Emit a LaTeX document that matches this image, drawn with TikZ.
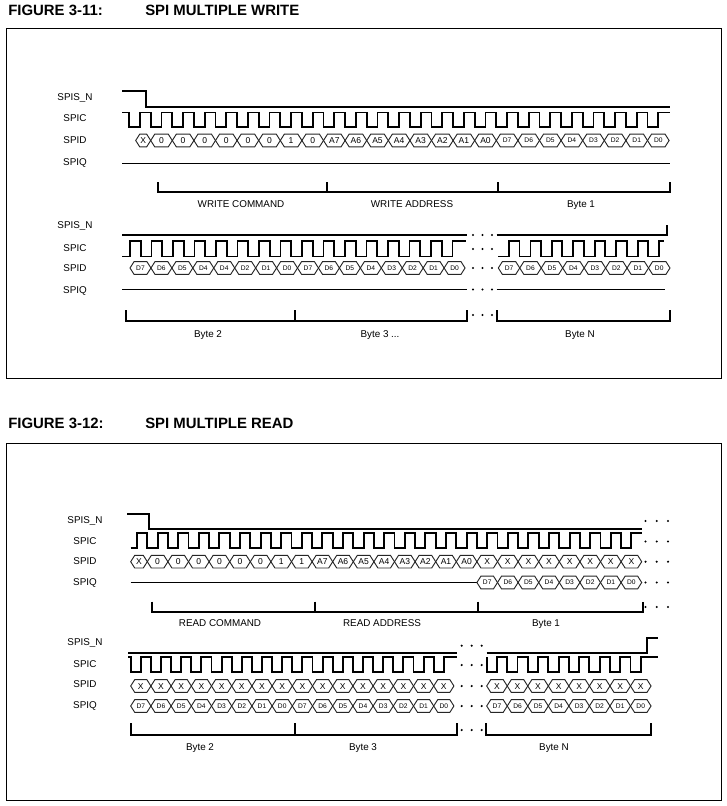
\documentclass[tikz,border=0pt]{standalone}
\usepackage{fontspec}
\setmainfont{Liberation Sans}
\newcounter{hexn}
\tikzset{
  sig/.style={line width=1.4pt, line join=miter},
  hexl/.style={line width=0.7pt, draw=black!85},
  boxl/.style={line width=0.7pt},
  dotf/.style={fill=black},
  slab/.style={font=\fontsize{7.4}{8}\selectfont, text height=5.3pt, text depth=0pt, inner sep=0pt},
  blab/.style={font=\fontsize{7.4}{8}\selectfont, text height=5.3pt, text depth=0pt, inner sep=0pt},
  ttl/.style={font=\bfseries\fontsize{11.2}{12}\selectfont, text height=8pt, text depth=0pt, inner sep=0pt, anchor=west},
  hexb/.style={font=\fontsize{6.4}{6.5}\selectfont, text height=4.6pt, text depth=0pt, inner sep=0pt},
  hexs/.style={font=\fontsize{5}{5}\selectfont, text height=3.6pt, text depth=0pt, inner sep=0pt},
}
\newcommand{\hexc}[5]{%
  \draw[hexl] (#1,#3) -- ({#1+4},{#3-6.3}) -- ({#2-4},{#3-6.3}) -- (#2,#3) -- ({#2-4},{#3+6.3}) -- ({#1+4},{#3+6.3}) -- cycle;%
  \stepcounter{hexn}%
  \node[#5] (hx\the\value{hexn}) at ({(#1+#2)/2},#3) {#4};%
}
\newcommand{\hexrow}[5]{%
  \foreach \hlab [count=\i from 0] in {#5} {%
    \pgfmathsetmacro\ha{#1+#2*\i}%
    \pgfmathsetmacro\hb{#1+#2*(\i+1)}%
    \hexc{\ha}{\hb}{#3}{\hlab}{#4}%
  }%
}
\newcommand{\tdots}[4]{\foreach \dx in {#1,#2,#3} {\fill[dotf] (\dx,#4) circle[radius=0.9pt];}}
\begin{document}
\begin{tikzpicture}[x=0.75pt,y=-0.75pt]
\useasboundingbox (0,0) rectangle (727,806);
\fill[white] (0,0) rectangle (727,806);

% ---------- titles and frames
\node[ttl] (t1a) at (8,10.5) {FIGURE 3-11:};
\node[ttl] (t1b) at (145,10.5) {SPI MULTIPLE WRITE};
\node[ttl] (t2a) at (8,423) {FIGURE 3-12:};
\node[ttl] (t2b) at (145,423) {SPI MULTIPLE READ};
\draw[boxl] (6,28) rectangle (721,378);
\draw[boxl] (6,443) rectangle (721,800);

% ================= FIGURE 3-11, row 1
\node[slab] (l1a) at (75,97) {SPIS\_N};
\node[slab] (l1b) at (75,118) {SPIC};
\node[slab] (l1c) at (75,140) {SPID};
\node[slab] (l1d) at (75,162) {SPIQ};
\draw[sig] (122,91) -| (145.7,107) -- (670,107);
\draw[sig] (122,112.5) -| (129.1,127) \foreach \k in {0,...,23} { -| ({139.9+21.6*\k},112.5) -| ({150.7+21.6*\k},127) } -| (658.3,112.5) -- (670,112.5);
\hexc{135.7}{150.7}{140.5}{X}{hexb}
\hexrow{150.7}{21.6}{140.5}{hexb}{0,0,0,0,0,0,1,0,A7,A6,A5,A4,A3,A2,A1,A0}
\hexrow{496.3}{21.6}{140.5}{hexs}{D7,D6,D5,D4,D3,D2,D1,D0}
\draw[sig] (122,163.5) -- (670,163.5);
\draw[sig] (158,182) |- (670,192) -- (670,182);
\draw[sig] (327,182) -- (327,192);
\draw[sig] (498,182) -- (498,192);
\node[blab] (b1a) at (241,204) {WRITE COMMAND};
\node[blab] (b1b) at (412,204) {WRITE ADDRESS};
\node[blab] (b1c) at (581,204) {Byte 1};

% ================= FIGURE 3-11, row 2
\node[slab] (l2a) at (75,225) {SPIS\_N};
\node[slab] (l2b) at (75,247.7) {SPIC};
\node[slab] (l2c) at (75,268.3) {SPID};
\node[slab] (l2d) at (75,290) {SPIQ};
\draw[sig] (122,235) -- (466.7,235);
\draw[sig] (496.7,235) -| (666.7,225);
\draw[sig] (122,256.5) \foreach \k in {0,...,14} { -| ({130+21.5*\k},241) -| ({140.75+21.5*\k},256.5) } -| (452.5,241) -- (466,241);
\draw[sig] (498.3,256.5) \foreach \k in {0,...,6} { -| ({509+21.46*\k},241) -| ({519.5+21.46*\k},256.5) } -| (659.2,241) -- (664,241);
\hexrow{130}{20.94}{268}{hexs}{D7,D6,D5,D4,D4,D2,D1,D0,D7,D6,D5,D4,D3,D2,D1,D0}
\hexrow{498.3}{21.46}{268}{hexs}{D7,D6,D5,D4,D3,D2,D1,D0}
\draw[sig] (122,289.5) -- (466.7,289.5);
\draw[sig] (496.7,289.5) -- (665,289.5);
\draw[sig] (126,310) |- (466.7,321) -- (466.7,310);
\draw[sig] (295,310) -- (295,321);
\draw[sig] (496.7,310) |- (670,321) -- (670,310);
\tdots{473}{482.5}{492}{235}
\tdots{473}{482.5}{492}{249}
\tdots{473}{482.5}{492}{268}
\tdots{473}{482.5}{492}{289.5}
\tdots{473}{482.5}{492}{315}
\node[blab] (b2a) at (208,334) {Byte 2};
\node[blab] (b2b) at (380,334) {Byte 3 ...};
\node[blab] (b2c) at (580,334) {Byte N};

% ================= FIGURE 3-12, row 1
\node[slab] (l3a) at (85,520) {SPIS\_N};
\node[slab] (l3b) at (85,541) {SPIC};
\node[slab] (l3c) at (85,561) {SPID};
\node[slab] (l3d) at (85,581.7) {SPIQ};
\draw[sig] (127.3,514) -| (149.3,529.3) -- (641.7,529.3);
\draw[sig] (130.7,548.3) \foreach \k in {0,...,23} { -| ({137+20.6*\k},533.3) -| ({147.3+20.6*\k},548.3) } -| (631.4,533.3) -- (641.7,533.3);
\hexc{130.7}{147.3}{561.7}{X}{hexb}
\hexrow{147.3}{20.6}{561.7}{hexb}{0,0,0,0,0,0,1,1,A7,A6,A5,A4,A3,A2,A1,A0,X,X,X,X,X,X,X,X}
\draw[sig] (130.7,582.5) -- (476.9,582.5);
\hexrow{476.9}{20.6}{582.5}{hexs}{D7,D6,D5,D4,D3,D2,D1,D0}
\draw[sig] (151.7,601.7) |- (642.7,611.7) -- (642.7,601.7);
\draw[sig] (315,601.7) -- (315,611.7);
\draw[sig] (478.3,601.7) -- (478.3,611.7);
\tdots{645.5}{656.7}{668}{521}
\tdots{645.5}{656.7}{668}{541.5}
\tdots{645.5}{656.7}{668}{561.7}
\tdots{645.5}{656.7}{668}{582.5}
\tdots{645.5}{656.7}{668}{607}
\node[blab] (b3a) at (220,622.7) {READ COMMAND};
\node[blab] (b3b) at (382,622.7) {READ ADDRESS};
\node[blab] (b3c) at (546,622.7) {Byte 1};

% ================= FIGURE 3-12, row 2
\node[slab] (l4a) at (85,642.3) {SPIS\_N};
\node[slab] (l4b) at (85,664.3) {SPIC};
\node[slab] (l4c) at (85,684.3) {SPID};
\node[slab] (l4d) at (85,705) {SPIQ};
\draw[sig] (128.3,652.7) -- (456.7,652.7);
\draw[sig] (486.7,652.7) -| (646.7,637.7) -- (658.3,637.7);
\draw[sig] (128.3,657.3) \foreach \k in {0,...,15} { -| ({130.7+20.2*\k},671.7) -| ({140.8+20.2*\k},657.3) } -- (456.7,657.3);
\draw[sig] (486.7,657.3) \foreach \k in {0,...,7} { -| ({486.7+20.54*\k},671.7) -| ({497+20.54*\k},657.3) } -- (658.3,657.3);
\hexrow{130.7}{20.2}{686}{hexb}{X,X,X,X,X,X,X,X,X,X,X,X,X,X,X,X}
\hexrow{486.7}{20.54}{686}{hexb}{X,X,X,X,X,X,X,X}
\hexrow{130.7}{20.2}{706}{hexs}{D7,D6,D5,D4,D3,D2,D1,D0,D7,D6,D5,D4,D3,D2,D1,D0}
\hexrow{486.7}{20.54}{706}{hexs}{D7,D6,D5,D4,D3,D2,D1,D0}
\draw[sig] (130.7,723.3) |- (456.7,735) -- (456.7,723.3);
\draw[sig] (295,723.3) -- (295,735);
\draw[sig] (485.7,723.3) |- (651,735) -- (651,723.3);
\tdots{461.7}{471.7}{481.7}{645.7}
\tdots{461.7}{471.7}{481.7}{665}
\tdots{461.7}{471.7}{481.7}{686}
\tdots{461.7}{471.7}{481.7}{706}
\tdots{461.7}{471.7}{481.7}{730}
\node[blab] (b4a) at (200,746.7) {Byte 2};
\node[blab] (b4b) at (363,746.7) {Byte 3};
\node[blab] (b4c) at (554,746.7) {Byte N};
\end{tikzpicture}
\end{document}
